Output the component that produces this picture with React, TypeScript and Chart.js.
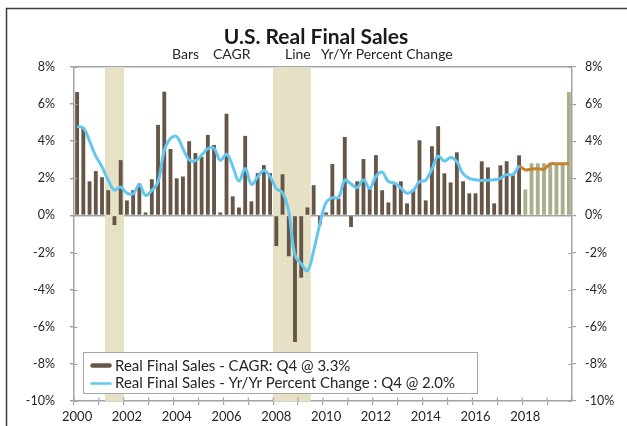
import { useEffect, useRef } from "react";
import { Chart, registerables } from "chart.js";

Chart.register(...registerables);

// ---------- data ----------
const years = [2000, 2001, 2002, 2003, 2004, 2005, 2006, 2007, 2008, 2009, 2010, 2011, 2012, 2013, 2014, 2015, 2016, 2017, 2018, 2019];
const quarterNames = ["Q1", "Q2", "Q3", "Q4"];
const categories = years.flatMap((y) => quarterNames.map((q) => `${y}${q}`));

// Real final sales, CAGR (bars), 2000Q1 - 2019Q4 (2018Q1 onward = forecast)
const cagrBars = [
  6.65, 4.72, 1.84, 2.39,
  2.06, 1.36, -0.52, 2.98,
  0.81, 1.36, 1.72, 0.16,
  1.95, 4.88, 6.67, 3.58,
  2.0, 2.1, 4.0, 3.36,
  3.16, 4.34, 3.8, 0.16,
  5.48, 1.03, 0.43, 4.29,
  0.76, 2.28, 2.71, 2.28,
  -1.65, 2.22, -2.2, -6.82,
  -3.35, 0.43, 1.63, -0.5,
  0.16, 2.77, 0.9, 4.23,
  -0.62, 1.84, 3.04, 1.42,
  3.25, 1.36, 0.7, 1.68,
  1.84, 0.65, 1.4, 4.05,
  0.81, 3.73, 4.81, 2.27,
  1.78, 3.4, 1.84, 1.19,
  1.19, 2.92, 2.59, 0.65,
  2.7, 2.92, 2.16, 3.24,
  1.4, 2.81, 2.81, 2.81,
  2.81, 2.81, 2.81, 6.65,
];
const firstForecastQuarter = "2018Q1";

// Yr/Yr percent change (line), 2000Q1 - 2017Q4
const yoyLine = [
  4.8, 4.72, 4.0, 3.2,
  2.62, 1.9, 1.37, 1.53,
  1.2, 1.17, 1.65, 1.08,
  1.35, 1.8, 3.5, 4.15,
  4.25, 3.6, 3.0, 2.95,
  3.25, 3.6, 3.62, 2.97,
  3.3, 2.65, 1.85, 2.53,
  1.68, 2.07, 2.42, 2.1,
  1.45, 1.22, 0.2, -2.15,
  -2.6, -2.98, -1.9, -0.45,
  0.7, 0.95, 0.97, 1.9,
  1.7, 1.5, 1.93, 1.45,
  2.1, 2.33, 1.83, 1.75,
  1.48, 1.2, 1.35, 1.82,
  1.9, 2.5, 3.2, 2.93,
  3.12, 2.9, 2.25, 2.0,
  1.92, 1.88, 1.9, 1.92,
  2.0, 2.2, 2.2, 2.68,
];
// Yr/Yr forecast, 2017Q4 - 2019Q4
const yoyForecastStart = "2017Q4";
const yoyForecast = [2.68, 2.45, 2.5, 2.52, 2.5, 2.78, 2.78, 2.78, 2.78];

const recessionQuarters = ["2001Q2", "2001Q3", "2001Q4", "2008Q1", "2008Q2", "2008Q3", "2008Q4", "2009Q1", "2009Q2"];

const yMin = -10;
const yMax = 8;
const yStep = 2;

const titleText = "U.S. Real Final Sales";
const subtitleParts = ["Bars", "CAGR", "Line", "Yr/Yr Percent Change"];
const barLabel = "Real Final Sales - CAGR: Q4 @ 3.3%";
const lineLabel = "Real Final Sales - Yr/Yr Percent Change : Q4 @ 2.0%";

// ---------- styles ----------
const FONT = 'Lato, "Noto Sans", sans-serif';
const BROWN = "#655647";
const GREEN = "#a9ae8b";
const BLUE = "#63c7f0";
const ORANGE = "#c4822c";
const SHADE = "#e6e1c4";
const AXIS = "#a3a3a3";
const TEXT = "#262626";

export default function App() {
  const canvasRef = useRef<HTMLCanvasElement | null>(null);

  useEffect(() => {
    const canvas = canvasRef.current;
    if (!canvas) return;

    const forecastIdx = categories.indexOf(firstForecastQuarter);
    const fcStartIdx = categories.indexOf(yoyForecastStart);
    const forecastData: (number | null)[] = categories.map((_, i) =>
      i >= fcStartIdx && i - fcStartIdx < yoyForecast.length ? yoyForecast[i - fcStartIdx] : null
    );
    const shadeData = categories.map((c) => (recessionQuarters.includes(c) ? [yMin, yMax] : null));

    const decor = {
      id: "decor",
      beforeDraw(chart: any) {
        const ctx = chart.ctx;
        ctx.save();
        ctx.fillStyle = "#ffffff";
        ctx.fillRect(0, 0, chart.width, chart.height);
        ctx.strokeStyle = "#3c3c3c";
        ctx.lineWidth = 1.5;
        ctx.beginPath();
        ctx.moveTo(6.5, chart.height);
        ctx.lineTo(6.5, 8.5);
        ctx.lineTo(chart.width, 8.5);
        ctx.stroke();
        ctx.restore();
      },
      afterDraw(chart: any) {
        const ctx = chart.ctx;
        const area = chart.chartArea;
        const xs = chart.scales.x;
        const yl = chart.scales.y;
        ctx.save();

        // inner parts of tick marks
        ctx.strokeStyle = AXIS;
        ctx.lineWidth = 1.2;
        ctx.beginPath();
        for (let v = yMin; v <= yMax; v += yStep) {
          const py = Math.round(yl.getPixelForValue(v)) + 0.5;
          ctx.moveTo(area.left, py);
          ctx.lineTo(area.left + 3.5, py);
          ctx.moveTo(area.right - 3.5, py);
          ctx.lineTo(area.right, py);
        }
        for (let i = 0; i <= categories.length; i += 4) {
          const px = xs.getPixelForValue(i - 0.5);
          ctx.moveTo(px, area.bottom - 3.5);
          ctx.lineTo(px, area.bottom);
        }
        ctx.stroke();

        // title & subtitle
        ctx.fillStyle = "#1a1a1a";
        ctx.font = `bold 21px ${FONT}`;
        ctx.textAlign = "center";
        ctx.textBaseline = "alphabetic";
        ctx.fillText(titleText, 316, 43.5);
        ctx.font = `14px ${FONT}`;
        ctx.textAlign = "left";
        ctx.fillStyle = TEXT;
        const subX = [172, 213, 285, 321];
        subtitleParts.forEach((t, i) => ctx.fillText(t, subX[i], 58.5));

        // legend
        const lx = area.left + 9.5;
        const ly = area.bottom - 48.5;
        const lw = 394;
        const lh = 41;
        ctx.fillStyle = "#ffffff";
        ctx.fillRect(lx, ly, lw, lh);
        ctx.strokeStyle = "#a6a6a6";
        ctx.lineWidth = 1;
        ctx.strokeRect(lx, ly, lw, lh);

        ctx.lineCap = "round";
        ctx.strokeStyle = BROWN;
        ctx.lineWidth = 4.5;
        ctx.beginPath();
        ctx.moveTo(lx + 9, ly + 13);
        ctx.lineTo(lx + 26, ly + 13);
        ctx.stroke();
        ctx.lineCap = "butt";
        ctx.strokeStyle = BLUE;
        ctx.lineWidth = 2.5;
        ctx.beginPath();
        ctx.moveTo(lx + 7, ly + 31);
        ctx.lineTo(lx + 28, ly + 31);
        ctx.stroke();

        ctx.fillStyle = TEXT;
        ctx.font = `15px ${FONT}`;
        ctx.textAlign = "left";
        ctx.fillText(barLabel, lx + 31.5, ly + 18);
        ctx.fillText(lineLabel, lx + 31.5, ly + 35.8);
        ctx.restore();
      },
    };

    const chart = new Chart(canvas, {
      type: "bar",
      data: {
        labels: categories,
        datasets: [
          {
            type: "line",
            label: lineLabel,
            data: yoyLine,
            borderColor: BLUE,
            borderWidth: 3,
            pointRadius: 0,
            tension: 0.4,
            fill: false,
            order: 1,
          },
          {
            type: "line",
            label: "Forecast",
            data: forecastData,
            borderColor: ORANGE,
            borderWidth: 3,
            pointRadius: 0,
            tension: 0.3,
            fill: false,
            order: 1,
          },
          {
            type: "bar",
            label: barLabel,
            data: cagrBars,
            backgroundColor: (c: any) => (c.dataIndex >= forecastIdx ? GREEN : BROWN),
            barPercentage: 0.62,
            categoryPercentage: 1,
            grouped: false,
            order: 2,
          },
          {
            type: "bar",
            label: "Recession",
            data: shadeData as any,
            backgroundColor: SHADE,
            barPercentage: 1.06,
            categoryPercentage: 1,
            grouped: false,
            order: 3,
          },
        ],
      },
      options: {
        animation: false,
        responsive: false,
        layout: { padding: { top: 67, left: 0, right: 0, bottom: 0 } },
        plugins: {
          legend: { display: false },
          tooltip: { enabled: false },
          title: { display: false },
        },
        scales: {
          x: {
            type: "category",
            offset: true,
            grid: {
              offset: true,
              drawOnChartArea: false,
              color: (c: any) => (c.index % 4 === 0 ? AXIS : "transparent"),
              tickLength: 4,
              lineWidth: 1.2,
            },
            border: { color: AXIS, width: 1.5 },
            ticks: {
              autoSkip: false,
              maxRotation: 0,
              minRotation: 0,
              padding: 4,
              color: TEXT,
              font: { family: FONT, size: 13 },
              callback: (_v: any, i: number) => (i % 8 === 0 ? String(years[i / 4]) : ""),
            },
            afterFit: (s: any) => {
              s.height = 25;
            },
          },
          y: {
            position: "left",
            min: yMin,
            max: yMax,
            z: 1,
            ticks: {
              stepSize: yStep,
              padding: 15,
              color: TEXT,
              font: { family: FONT, size: 12.5 },
              callback: (v: any) => `${v}%`,
            },
            grid: {
              drawOnChartArea: true,
              color: (c: any) => (c.tick && (c.tick.value === 0 || c.tick.value === yMax) ? AXIS : "transparent"),
              tickColor: AXIS,
              tickLength: 4,
              lineWidth: 1.5,
            },
            border: { color: AXIS, width: 1.5 },
            afterFit: (s: any) => {
              s.width = 74;
            },
          },
          y2: {
            position: "right",
            min: yMin,
            max: yMax,
            ticks: {
              stepSize: yStep,
              padding: 9,
              color: TEXT,
              font: { family: FONT, size: 12.5 },
              callback: (v: any) => `${v}%`,
            },
            grid: {
              drawOnChartArea: false,
              color: AXIS,
              tickLength: 4,
              lineWidth: 1.2,
            },
            border: { color: AXIS, width: 1.5 },
            afterFit: (s: any) => {
              s.width = 55;
            },
          },
        },
      } as any,
      plugins: [decor],
    });

    return () => {
      chart.destroy();
    };
  }, []);

  return (
    <div style={{ position: "absolute", left: 0, top: 0, width: 627, height: 426, background: "#fff" }}>
      <canvas ref={canvasRef} width={627} height={426} style={{ display: "block" }} />
    </div>
  );
}
